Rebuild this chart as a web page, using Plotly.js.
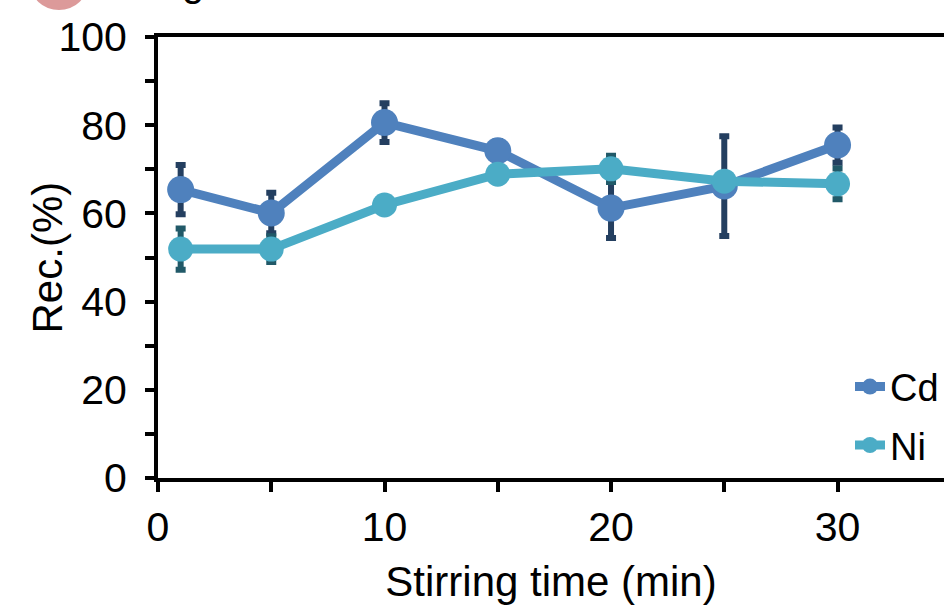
<!DOCTYPE html>
<html>
<head>
<meta charset="utf-8">
<script src="https://cdn.plot.ly/plotly-3.0.1.min.js"></script>
<style>html,body{margin:0;padding:0;background:#fff;}#chart{width:944px;height:605px;}</style>
</head>
<body>
<div id="chart"></div>
<script>
const stirTime = [1, 5, 10, 15, 20, 25, 30];
const cdRec = [65.4, 60.1, 80.6, 74.2, 61.2, 66.2, 75.5];
const cdErr = [5.6, 4.6, 4.4, 2.2, 6.8, 11.3, 4.0];
const niRec = [51.9, 51.9, 61.9, 68.9, 70.1, 67.3, 66.7];
const niErr = [4.7, 2.9, 1.2, 1.2, 3.0, 1.2, 3.5];
const seriesNames = ['Cd', 'Ni'];
const xTickVals = [0, 10, 20, 30];
const yTickVals = [0, 20, 40, 60, 80, 100];

const font = 'Liberation Sans, Arial, sans-serif';

const traces = [
  {
    x: stirTime, y: cdRec, name: seriesNames[0], type: 'scatter', mode: 'lines+markers',
    line: {color: '#4F81BD', width: 9},
    marker: {color: '#4F81BD', size: 27},
    error_y: {type: 'data', array: cdErr, visible: true, color: '#243F60', thickness: 6, width: 5},
    legendgroup: 'a'
  },
  {
    x: stirTime, y: niRec, name: seriesNames[1], type: 'scatter', mode: 'lines+markers',
    line: {color: '#4BACC6', width: 9},
    marker: {color: '#4BACC6', size: 25},
    error_y: {type: 'data', array: niErr, visible: true, color: '#215968', thickness: 6, width: 5},
    legendgroup: 'b'
  }
];

const layout = {
  width: 944, height: 605,
  margin: {l: 158, r: 0, t: 37, b: 127},
  paper_bgcolor: '#fff', plot_bgcolor: '#fff',
  font: {family: font, color: '#000', size: 41},
  showlegend: true,
  legend: {
    x: 1, xanchor: 'right', y: 0.278, yanchor: 'top',
    font: {family: font, size: 38, color: '#000'},
    bgcolor: 'rgba(0,0,0,0)', traceorder: 'grouped', tracegroupgap: 6,
    itemwidth: 30
  },
  xaxis: {
    range: [0, 34.7], tickvals: xTickVals, ticktext: xTickVals.map(String),
    showgrid: false, zeroline: false, automargin: false,
    showline: true, linecolor: '#000', linewidth: 4, mirror: true,
    ticks: 'outside', ticklen: 10, tickwidth: 4, tickcolor: '#000',
    minor: {tickvals: [5, 15, 25], ticks: 'outside', ticklen: 10, tickwidth: 4, tickcolor: '#000'},
    tickfont: {family: font, size: 41},
    title: {text: 'Stirring time (min)', font: {family: font, size: 42}, standoff: 19}
  },
  yaxis: {
    range: [0, 100], tickvals: yTickVals, ticktext: yTickVals.map(String),
    showgrid: false, zeroline: false, automargin: false,
    showline: true, linecolor: '#000', linewidth: 4,
    ticks: 'outside', ticklen: 9, tickwidth: 4, tickcolor: '#000', ticklabelstandoff: 10,
    minor: {tickvals: [10, 30, 50, 70, 90], ticks: 'outside', ticklen: 9, tickwidth: 4, tickcolor: '#000'},
    tickfont: {family: font, size: 41}
  },
  shapes: [
    {type: 'circle', xref: 'paper', yref: 'paper', x0: -0.163, x1: -0.089, y0: 1.061, y1: 1.188,
     fillcolor: '#DC9A9A', line: {width: 0}, layer: 'above'}
  ],
  annotations: [
    {text: 'Rec.(%)', xref: 'paper', yref: 'paper', x: -0.14, y: 0.5, xanchor: 'center', yanchor: 'middle',
     textangle: -90, showarrow: false, font: {family: font, size: 42, color: '#000'}},
    {text: 'g', xref: 'paper', yref: 'paper', x: 0.028, y: 1.07, xanchor: 'left', yanchor: 'bottom',
     showarrow: false, font: {family: font, size: 40, color: '#000'}}
  ]
};

Plotly.newPlot('chart', traces, layout, {displayModeBar: false, staticPlot: true});
</script>
</body>
</html>
